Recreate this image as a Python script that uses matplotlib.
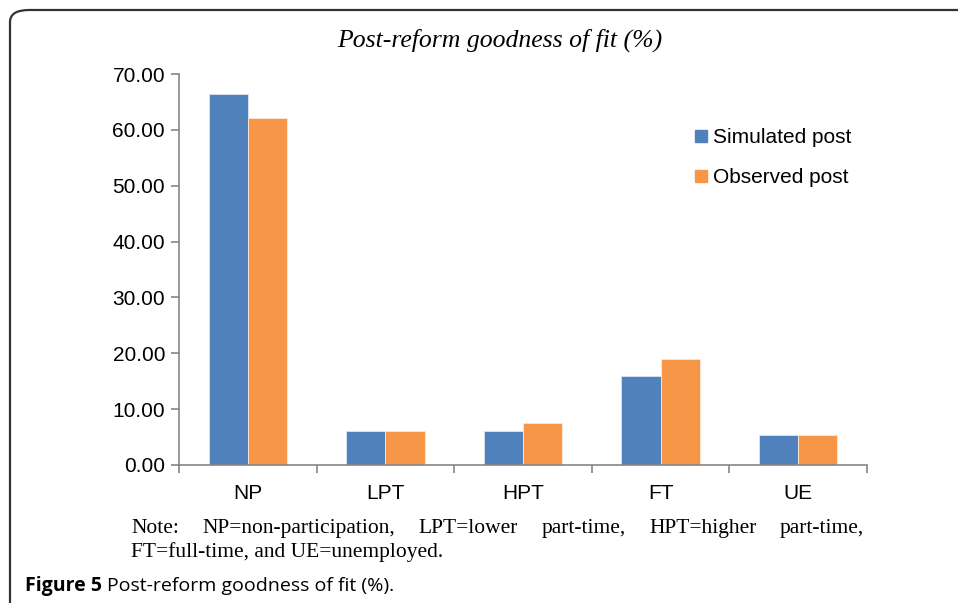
import matplotlib.pyplot as plt
import numpy as np
from matplotlib.patches import FancyBboxPatch

categories = ['NP', 'LPT', 'HPT', 'FT', 'UE']
simulated = [66.4, 6.1, 6.1, 15.9, 5.4]
observed = [62.1, 6.1, 7.5, 18.9, 5.4]
series_names = ['Simulated post', 'Observed post']
colors = ['#4F81BD', '#F79646']

note_line1 = 'Note: NP=non-participation, LPT=lower part-time, HPT=higher part-time,'
note_line2 = 'FT=full-time, and UE=unemployed.'

W, H = 958, 603
fig = plt.figure(figsize=(W / 100, H / 100), dpi=100)
fig.patch.set_facecolor('white')

# rounded frame around the figure panel (runs off the right/bottom edges)
frame = FancyBboxPatch((10 / W, -0.2), 1.2, 1 - 10 / H + 0.2,
                       boxstyle='round,pad=0,rounding_size=0.02',
                       transform=fig.transFigure, fill=False,
                       edgecolor='#333333', linewidth=1.6)
fig.patches.append(frame)

ax = fig.add_axes([179 / W, 1 - 465 / H, (867 - 179) / W, (465 - 74) / H])

x = np.arange(len(categories))
width = 0.285
ax.bar(x - width / 2, simulated, width, color=colors[0], edgecolor='#dce6f2', linewidth=0.6)
ax.bar(x + width / 2, observed, width, color=colors[1], edgecolor='#fde9d9', linewidth=0.6)

ax.set_xlim(-0.5, len(categories) - 0.5)
ax.set_ylim(0, 70)
ax.set_yticks(np.arange(0, 71, 10))
ax.set_yticklabels([f'{v:.2f}' for v in np.arange(0, 71, 10)],
                   fontfamily='Liberation Sans', fontsize=15)
ax.set_xticks(x)
ax.set_xticklabels(categories, fontfamily='Liberation Sans', fontsize=15)
ax.set_xticks(np.arange(-0.5, len(categories)), minor=True)
ax.tick_params(axis='x', which='major', length=0, pad=14)
ax.tick_params(axis='x', which='minor', length=6, color='#868686', width=1.2, direction='out')
ax.tick_params(axis='y', length=6, color='#868686', width=1.2, pad=4)

for s in ['top', 'right']:
    ax.spines[s].set_visible(False)
for s in ['left', 'bottom']:
    ax.spines[s].set_color('#868686')
    ax.spines[s].set_linewidth(1.2)

# legend drawn as square markers
handles = [plt.Line2D([], [], marker='s', linestyle='none', markersize=9,
                      markerfacecolor=c, markeredgecolor=c) for c in colors]
fig.legend(handles, series_names, loc='upper left', bbox_to_anchor=(684 / W, 1 - 118 / H),
           frameon=False, prop={'family': 'Liberation Sans', 'size': 15},
           handlelength=0.6, handletextpad=0.3, labelspacing=1.0, borderpad=0)

fig.text(500 / W, 1 - 40 / H, 'Post-reform goodness of fit (%)', ha='center', va='center',
         fontfamily='Liberation Serif', fontstyle='italic', fontsize=18.5)

# justified note, first line spread between fixed left and right edges
renderer = fig.canvas.get_renderer()
x0, x1 = 131, 864
note_size = 15.5
words = note_line1.split()
texts = [fig.text(0, 1 - 533 / H, w, ha='left', va='baseline', fontfamily='Liberation Serif',
                  fontsize=note_size) for w in words]
widths = [t.get_window_extent(renderer).width for t in texts]
gap = (x1 - x0 - sum(widths)) / (len(words) - 1)
pos = x0
for t, w in zip(texts, widths):
    t.set_x(pos / W)
    pos += w + gap
fig.text(x0 / W, 1 - 557 / H, note_line2, ha='left', va='baseline',
         fontfamily='Liberation Serif', fontsize=note_size)

t1 = fig.text(25 / W, 1 - 591 / H, 'Figure 5', ha='left', va='baseline',
              fontfamily='Open Sans', fontweight='bold', fontsize=14)
w1 = t1.get_window_extent(renderer).width
fig.text((25 + w1 + 5) / W, 1 - 591 / H, 'Post-reform goodness of fit (%).', ha='left', va='baseline',
         fontfamily='Open Sans', fontsize=14)

fig.savefig('out.png', dpi=100)
